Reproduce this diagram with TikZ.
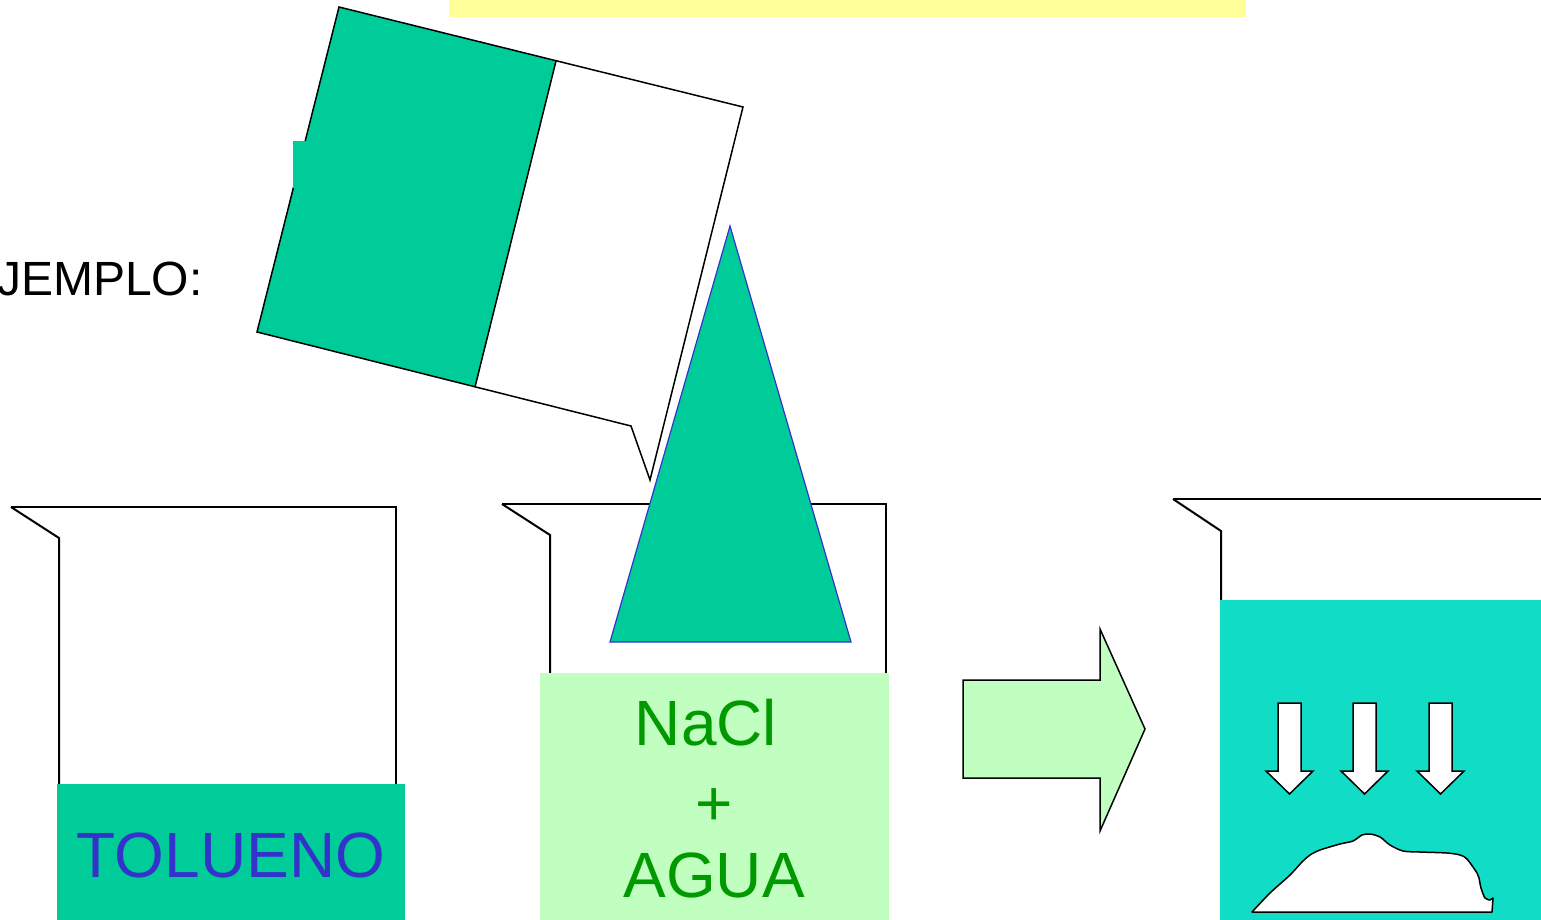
\documentclass[tikz,border=0pt]{standalone}
\usepackage{fontspec}
\setmainfont{Liberation Sans}
\definecolor{solgreen}{HTML}{00CC99}
\definecolor{palegreen}{HTML}{C0FFC0}
\definecolor{turq}{HTML}{11DDC7}
\definecolor{paleyellow}{HTML}{FFFF99}
\definecolor{txtblue}{HTML}{3333CC}
\definecolor{txtgreen}{HTML}{009900}
\tikzset{
  outline/.style={draw=black, line width=2pt, line join=miter},
  thinline/.style={draw=black, line width=1.5pt, line join=miter},
  label/.style={inner sep=0pt, anchor=base},
  bigtext/.style={font=\fontsize{64}{70}\selectfont},
}
\begin{document}
\begin{tikzpicture}[x=1pt, y=-1pt]
\useasboundingbox (0,0) rectangle (1541,920);

% title strip
\fill[paleyellow] (449,0) rectangle (1246,17);

% heading
\node[label, anchor=base west, font=\fontsize{48}{54}\selectfont] (ejemplo) at (-3,295) {JEMPLO:};

% tilted beaker being poured
\fill[solgreen] (339,7) -- (556,61) -- (475,387) -- (257,332) -- cycle;
\draw[thinline] (339,7) -- (743,107) -- (650,480) -- (631,426) -- (257,332) -- cycle;
\draw[thinline] (556,61) -- (475,387);
\fill[solgreen] (293,141) rectangle (340,188);

% beaker 1: toluene
\draw[outline] (11,507) -- (59,538) -- (59,785);
\draw[outline] (11,507) -- (396,507) -- (396,785);
\fill[solgreen] (57,784) rectangle (405,920);
\node[label, bigtext, text=txtblue] (tolueno) at (231,877) {TOLUENO};

% beaker 2: brine
\draw[outline] (502,504) -- (550,535) -- (550,673);
\draw[outline] (502,504) -- (886,504) -- (886,673);
\fill[palegreen] (540,673) rectangle (889,920);
\node[label, bigtext, text=txtgreen] (nacl) at (706,745) {NaCl};
\node[label, bigtext, text=txtgreen] (plus) at (714,825) {+};
\node[label, bigtext, text=txtgreen] (agua) at (714,897) {AGUA};

% stream of toluene
\draw[draw=txtblue, line width=1.2pt, fill=solgreen] (730,226) -- (851,642) -- (610,642) -- cycle;

% process arrow
\draw[thinline, fill=palegreen] (963,680) -- (1100,680) -- (1100,629) -- (1145,729)
  -- (1100,831) -- (1100,778) -- (963,778) -- cycle;

% beaker 3: result
\draw[outline] (1173,499) -- (1221,531) -- (1221,601);
\draw[outline] (1173,499) -- (1545,499);
\fill[turq] (1220,600) rectangle (1545,920);

% settling arrows
\foreach \cx in {1289.5,1364.5,1440.5} {
  \draw[thinline, fill=white] (\cx-11.5,703) -- (\cx+11.5,703) -- (\cx+11.5,771)
    -- (\cx+23.5,771) -- (\cx,794) -- (\cx-23.5,771) -- (\cx-11.5,771) -- cycle;
}

% precipitate
\draw[thinline, fill=white, line join=round] (1252,912) -- (1492,912) -- (1493,898)
  -- plot[smooth, tension=0.5] coordinates {(1490,900) (1485,898) (1481,888) (1479,878)
  (1477,873) (1467,859) (1460,855) (1447,853) (1420,852) (1403,851) (1390,845)
  (1380,837) (1370,834) (1362,835) (1353,841) (1340,844) (1320,850) (1310,855)
  (1302,862) (1290,875) (1270,893) (1252,912)} -- cycle;
\end{tikzpicture}
\end{document}
